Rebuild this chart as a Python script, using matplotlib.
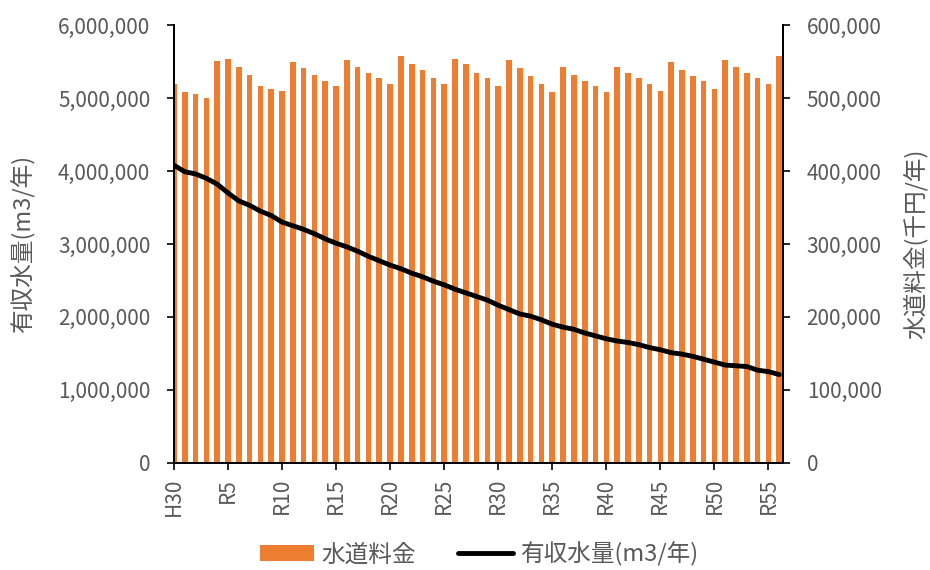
import matplotlib.pyplot as plt
import matplotlib
from matplotlib.ticker import FuncFormatter

matplotlib.rcParams['font.family'] = ['Noto Sans CJK JP', 'DejaVu Sans']

# categories: H30, R1 .. R56
years = ['H30'] + ['R%d' % i for i in range(1, 57)]

# 水道料金 (千円/年), right axis
fee = [519000, 508000, 505000, 500000, 551000, 554000, 543000, 532000, 516000, 513000,
       510000, 549000, 541000, 532000, 524000, 516000, 552000, 543000, 535000, 527000,
       519000, 557000, 546000, 538000, 527000, 519000, 554000, 546000, 535000, 527000,
       516000, 552000, 541000, 530000, 519000, 508000, 543000, 532000, 524000, 516000,
       508000, 543000, 535000, 527000, 519000, 510000, 549000, 538000, 530000, 524000,
       513000, 552000, 543000, 535000, 527000, 519000, 557000]

# 有収水量 (m3/年), left axis
volume = [4080000, 3990000, 3960000, 3900000, 3820000, 3700000, 3590000, 3530000, 3450000, 3390000,
          3300000, 3250000, 3200000, 3140000, 3070000, 3010000, 2960000, 2900000, 2830000, 2770000,
          2710000, 2660000, 2600000, 2550000, 2490000, 2440000, 2380000, 2330000, 2280000, 2230000,
          2160000, 2100000, 2040000, 2010000, 1960000, 1900000, 1860000, 1830000, 1780000, 1740000,
          1700000, 1670000, 1650000, 1620000, 1580000, 1550000, 1510000, 1490000, 1460000, 1420000,
          1380000, 1340000, 1330000, 1320000, 1270000, 1250000, 1210000]

gray = '#595959'
orange = '#ED7D31'
xs = list(range(len(years)))

fig = plt.figure(figsize=(9.3, 5.7), dpi=100)
ax = fig.add_axes([0.187, 0.188, 0.655, 0.768])
ax2 = ax.twinx()

ax2.bar(xs, fee, width=0.52, color=orange, label='水道料金')
ax.plot(xs, volume, color='black', linewidth=3.5, label='有収水量(m3/年)', solid_capstyle='round')

# line above the bars
ax.set_zorder(ax2.get_zorder() + 1)
ax.patch.set_visible(False)

ax.set_xlim(0, 56.35)
ax.set_ylim(0, 6000000)
ax2.set_ylim(0, 600000)
ax.set_yticks(range(0, 6000001, 1000000))
ax2.set_yticks(range(0, 600001, 100000))
fmt = FuncFormatter(lambda v, p: '{:,.0f}'.format(v))
ax.yaxis.set_major_formatter(fmt)
ax2.yaxis.set_major_formatter(fmt)

ax.set_xticks(xs[::5])
ax.set_xticklabels(years[::5], rotation=90)

for a in (ax, ax2):
    a.spines['top'].set_visible(False)
    a.tick_params(axis='both', labelsize=15, labelcolor=gray, length=5, width=1.2, color='black')
    a.tick_params(axis='y', pad=12)
    a.tick_params(axis='x', pad=6)
    for s in a.spines.values():
        s.set_linewidth(1.4)

ax.set_ylabel('有収水量(m3/年)', fontsize=17, color=gray)
ax.yaxis.set_label_coords(-0.228, 0.5)
ax2.set_ylabel('水道料金(千円/年)', fontsize=17, color=gray, rotation=90)
ax2.yaxis.set_label_coords(1.197, 0.5)

h1, l1 = ax2.get_legend_handles_labels()
h2, l2 = ax.get_legend_handles_labels()
leg = fig.legend(h1 + h2, l1 + l2, loc='center', bbox_to_anchor=(0.515, 0.028),
                 ncol=2, frameon=False, fontsize=17, handlelength=2.3, handletextpad=0.3,
                 columnspacing=1.8)
for t in leg.get_texts():
    t.set_color(gray)

fig.savefig('out.png', dpi=100)
